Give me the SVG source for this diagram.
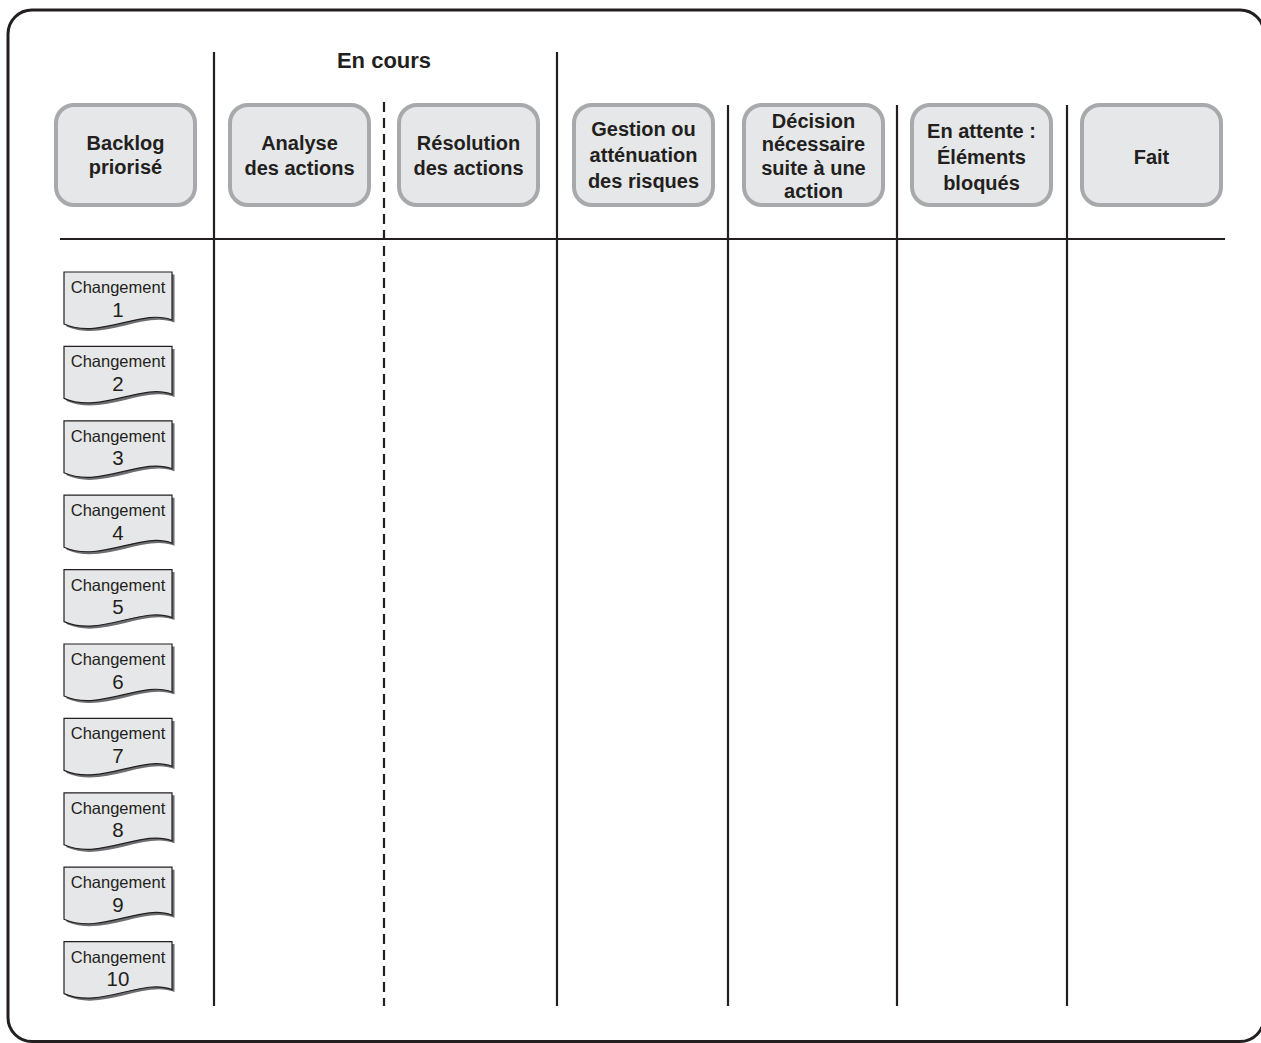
<svg xmlns="http://www.w3.org/2000/svg" width="1261" height="1043" viewBox="0 0 1261 1043">
  <style>
    .frame { fill: none; stroke: #231f20; stroke-width: 3; }
    .rule { stroke: #231f20; stroke-width: 2.2; fill: none; }
    .dash { stroke: #231f20; stroke-width: 2.2; stroke-dasharray: 10 6; fill: none; }
    .col { fill: #e6e7e8; stroke: #a7a9ac; stroke-width: 4; }
    .colText { font-family: "Liberation Sans", Arial, sans-serif; font-weight: bold; font-size: 20px; fill: #231f20; text-anchor: middle; }
    .title { font-family: "Liberation Sans", Arial, sans-serif; font-weight: bold; font-size: 22px; fill: #231f20; text-anchor: middle; }
    .doc { fill: #e6e7e8; stroke: #231f20; stroke-width: 1.2; }
    .docShadow { fill: #6d6e71; }
    .docText { font-family: "Liberation Sans", Arial, sans-serif; font-size: 16.5px; fill: #231f20; text-anchor: middle; }
    .docNum { font-family: "Liberation Sans", Arial, sans-serif; font-size: 20.5px; fill: #231f20; text-anchor: middle; }
  </style>
  <defs>
    <!-- document shape with wavy bottom edge -->
    <path id="docShape" d="M0,0 H108 V48 C78,36 36,68 0,52 Z"/>
  </defs>

  <!-- board outline -->
  <rect class="frame" x="8" y="10" width="1256" height="1031.5" rx="24"/>

  <!-- grid lines -->
  <g id="connectors">
    <line class="rule" x1="60" y1="239" x2="1225" y2="239"/>
    <line class="rule" x1="214" y1="52" x2="214" y2="1006"/>
    <line class="dash" x1="384" y1="102" x2="384" y2="1006"/>
    <line class="rule" x1="557" y1="52" x2="557" y2="1006"/>
    <line class="rule" x1="728" y1="105" x2="728" y2="1006"/>
    <line class="rule" x1="897" y1="105" x2="897" y2="1006"/>
    <line class="rule" x1="1067" y1="105" x2="1067" y2="1006"/>
  </g>

  <g id="en-cours">
    <text class="title" x="384" y="68">En cours</text>
  </g>

  <!-- column headers -->
  <g id="col-backlog">
    <rect class="col" x="56" y="105" width="139" height="100" rx="18"/>
    <text class="colText" x="125.5" y="150">Backlog</text>
    <text class="colText" x="125.5" y="174">priorisé</text>
  </g>
  <g id="col-analyse">
    <rect class="col" x="230" y="105" width="139" height="100" rx="18"/>
    <text class="colText" x="299.5" y="150">Analyse</text>
    <text class="colText" x="299.5" y="175">des actions</text>
  </g>
  <g id="col-resolution">
    <rect class="col" x="399" y="105" width="139" height="100" rx="18"/>
    <text class="colText" x="468.5" y="150">Résolution</text>
    <text class="colText" x="468.5" y="175">des actions</text>
  </g>
  <g id="col-gestion">
    <rect class="col" x="574" y="105" width="139" height="100" rx="18"/>
    <text class="colText" x="643.5" y="136">Gestion ou</text>
    <text class="colText" x="643.5" y="162">atténuation</text>
    <text class="colText" x="643.5" y="188">des risques</text>
  </g>
  <g id="col-decision">
    <rect class="col" x="744" y="105" width="139" height="100" rx="18"/>
    <text class="colText" x="813.5" y="128">Décision</text>
    <text class="colText" x="813.5" y="151">nécessaire</text>
    <text class="colText" x="813.5" y="174.5">suite à une</text>
    <text class="colText" x="813.5" y="198">action</text>
  </g>
  <g id="col-attente">
    <rect class="col" x="912" y="105" width="139" height="100" rx="18"/>
    <text class="colText" x="981.5" y="138">En attente :</text>
    <text class="colText" x="981.5" y="164">Éléments</text>
    <text class="colText" x="981.5" y="190">bloqués</text>
  </g>
  <g id="col-fait">
    <rect class="col" x="1082" y="105" width="139" height="100" rx="18"/>
    <text class="colText" x="1151.5" y="164">Fait</text>
  </g>

  <!-- backlog items -->
  <g id="change-1" transform="translate(64,272)">
    <use href="#docShape" class="docShadow" x="2.5" y="2.5"/>
    <use href="#docShape" class="doc"/>
    <text class="docText" x="54" y="21">Changement</text>
    <text class="docNum" x="54" y="44.5">1</text>
  </g>
  <g id="change-2" transform="translate(64,346.4)">
    <use href="#docShape" class="docShadow" x="2.5" y="2.5"/>
    <use href="#docShape" class="doc"/>
    <text class="docText" x="54" y="21">Changement</text>
    <text class="docNum" x="54" y="44.5">2</text>
  </g>
  <g id="change-3" transform="translate(64,420.8)">
    <use href="#docShape" class="docShadow" x="2.5" y="2.5"/>
    <use href="#docShape" class="doc"/>
    <text class="docText" x="54" y="21">Changement</text>
    <text class="docNum" x="54" y="44.5">3</text>
  </g>
  <g id="change-4" transform="translate(64,495.2)">
    <use href="#docShape" class="docShadow" x="2.5" y="2.5"/>
    <use href="#docShape" class="doc"/>
    <text class="docText" x="54" y="21">Changement</text>
    <text class="docNum" x="54" y="44.5">4</text>
  </g>
  <g id="change-5" transform="translate(64,569.6)">
    <use href="#docShape" class="docShadow" x="2.5" y="2.5"/>
    <use href="#docShape" class="doc"/>
    <text class="docText" x="54" y="21">Changement</text>
    <text class="docNum" x="54" y="44.5">5</text>
  </g>
  <g id="change-6" transform="translate(64,644)">
    <use href="#docShape" class="docShadow" x="2.5" y="2.5"/>
    <use href="#docShape" class="doc"/>
    <text class="docText" x="54" y="21">Changement</text>
    <text class="docNum" x="54" y="44.5">6</text>
  </g>
  <g id="change-7" transform="translate(64,718.4)">
    <use href="#docShape" class="docShadow" x="2.5" y="2.5"/>
    <use href="#docShape" class="doc"/>
    <text class="docText" x="54" y="21">Changement</text>
    <text class="docNum" x="54" y="44.5">7</text>
  </g>
  <g id="change-8" transform="translate(64,792.8)">
    <use href="#docShape" class="docShadow" x="2.5" y="2.5"/>
    <use href="#docShape" class="doc"/>
    <text class="docText" x="54" y="21">Changement</text>
    <text class="docNum" x="54" y="44.5">8</text>
  </g>
  <g id="change-9" transform="translate(64,867.2)">
    <use href="#docShape" class="docShadow" x="2.5" y="2.5"/>
    <use href="#docShape" class="doc"/>
    <text class="docText" x="54" y="21">Changement</text>
    <text class="docNum" x="54" y="44.5">9</text>
  </g>
  <g id="change-10" transform="translate(64,941.6)">
    <use href="#docShape" class="docShadow" x="2.5" y="2.5"/>
    <use href="#docShape" class="doc"/>
    <text class="docText" x="54" y="21">Changement</text>
    <text class="docNum" x="54" y="44.5">10</text>
  </g>
</svg>
